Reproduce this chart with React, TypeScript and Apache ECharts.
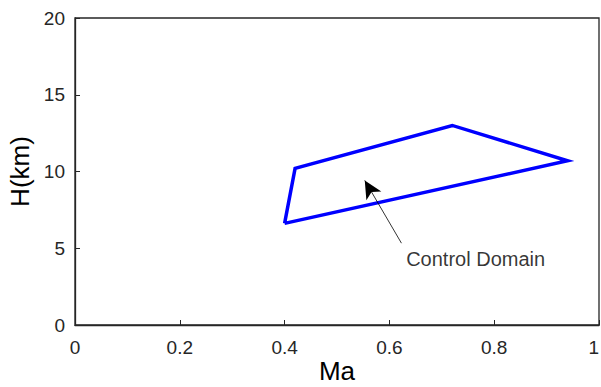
import React, { useEffect, useRef } from "react";
import * as echarts from "echarts";

const domainMa = [0.4, 0.42, 0.72, 0.94, 0.4];
const domainH = [6.62, 10.2, 13.0, 10.7, 6.62];
const arrowFrom = [0.623, 5.33];
const arrowTo = [0.553, 9.42];
const labelPos = [0.632, 4.3];
const labelText = "Control Domain";
const xTicks = { min: 0, max: 1, interval: 0.2 };
const yTicks = { min: 0, max: 20, interval: 5 };

export default function App() {
  const ref = useRef<HTMLDivElement>(null);
  useEffect(() => {
    if (!ref.current) return;
    const chart = echarts.init(ref.current, null, { renderer: "svg" });
    const font = "Arial, 'Liberation Sans', Helvetica, sans-serif";
    chart.setOption({
      animation: false,
      backgroundColor: "#ffffff",
      grid: {
        left: 75,
        right: 2,
        top: 18,
        bottom: 62,
        containLabel: false,
        outerBoundsMode: "none",
        show: true,
        borderColor: "#262626",
        borderWidth: 1.3,
        backgroundColor: "transparent",
      },
      xAxis: {
        type: "value",
        min: xTicks.min,
        max: xTicks.max,
        interval: xTicks.interval,
        name: "Ma",
        nameLocation: "middle",
        nameGap: 46,
        nameMoveOverlap: false,
        nameTextStyle: { fontSize: 26, color: "#000", fontFamily: font, verticalAlign: "middle" },
        axisLine: { show: true, onZero: false, lineStyle: { color: "#262626", width: 1.3 } },
        axisTick: { show: true, inside: true, length: 5, lineStyle: { color: "#262626" } },
        axisLabel: { fontSize: 19, color: "#262626", fontFamily: font, margin: 13, alignMaxLabel: "right" },
        splitLine: { show: false },
      },
      yAxis: {
        type: "value",
        min: yTicks.min,
        max: yTicks.max,
        interval: yTicks.interval,
        name: "H(km)",
        nameLocation: "middle",
        nameGap: 41,
        nameTextStyle: { fontSize: 26, color: "#000", fontFamily: font },
        axisLine: { show: true, onZero: false, lineStyle: { color: "#262626", width: 1.3 } },
        axisTick: { show: true, inside: true, length: 5, lineStyle: { color: "#262626" } },
        axisLabel: { fontSize: 19, color: "#262626", fontFamily: font, margin: 10 },
        splitLine: { show: false },
      },
      series: [
        {
          type: "line",
          data: domainMa.map((x, i) => [x, domainH[i]]),
          showSymbol: false,
          symbol: "none",
          lineStyle: { color: "#0000ff", width: 3.5, join: "miter" },
          markLine: {
            silent: true,
            symbol: ["none", "arrow"],
            symbolSize: [13, 18],
            lineStyle: { color: "#000", width: 0.8, type: "solid" },
            label: { show: false },
            data: [[{ coord: arrowFrom }, { coord: arrowTo }]],
          },
        },
        {
          type: "scatter",
          data: [labelPos],
          symbolSize: 0,
          label: {
            show: true,
            position: "right",
            distance: 0,
            formatter: labelText,
            fontSize: 20,
            color: "#000",
            fontFamily: font,
          },
        },
      ],
    });
    return () => chart.dispose();
  }, []);
  return <div ref={ref} style={{ width: 601, height: 387, position: "absolute", left: 0, top: 0 }} />;
}
